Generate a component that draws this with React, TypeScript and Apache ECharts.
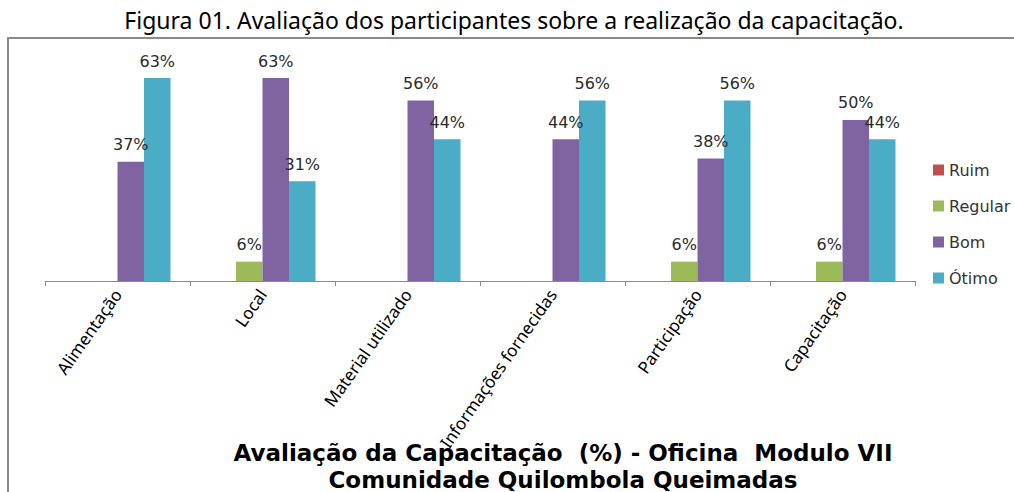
import React, { useEffect, useRef } from "react";
import * as echarts from "echarts";

const categories = [
  "Alimentação",
  "Local",
  "Material utilizado",
  "Informações fornecidas",
  "Participação",
  "Capacitação",
];
const seriesNames = ["Ruim", "Regular", "Bom", "Ótimo"];
const ruim = [0, 0, 0, 0, 0, 0];
const regular = [0, 6, 0, 0, 6, 6];
const bom = [37, 63, 56, 44, 38, 50];
const otimo = [63, 31, 44, 56, 56, 44];
const colors = ["#C0504D", "#9BBB59", "#8064A2", "#4BACC6"];

const topTitle = "Figura 01. Avaliação dos participantes sobre a realização da capacitação.";
const chartTitle = "Avaliação da Capacitação  (%) - Oficina  Modulo VII\nComunidade Quilombola Queimadas";

export default function App() {
  const ref = useRef<HTMLDivElement>(null);
  useEffect(() => {
    document.body.style.margin = "0";
    const chart = echarts.init(ref.current!, null, { renderer: "svg" });
    const values = [ruim, regular, bom, otimo];
    chart.setOption({
      animation: false,
      backgroundColor: "#fff",
      graphic: [
        {
          type: "rect",
          shape: { x: 8, y: 38, width: 1200, height: 600 },
          style: { fill: "none", stroke: "#8a8a8a", lineWidth: 2 },
          z: -1,
        },
        {
          type: "text",
          x: 514,
          y: 20,
          style: {
            text: topTitle,
            font: "23px 'Noto Sans', sans-serif",
            fill: "#000",
            align: "center",
            verticalAlign: "middle",
          },
        },
        {
          type: "text",
          x: 563,
          y: 466,
          style: {
            text: chartTitle,
            font: "bold 23px 'DejaVu Sans', sans-serif",
            lineHeight: 27,
            fill: "#000",
            align: "center",
            verticalAlign: "middle",
          },
        },
      ],
      legend: {
        orient: "vertical",
        left: 928,
        top: 157,
        itemWidth: 11,
        itemHeight: 11,
        itemGap: 20,
        icon: "rect",
        textStyle: {
          fontFamily: "'DejaVu Sans', sans-serif",
          fontSize: 16,
          color: "#333",
          lineHeight: 16,
          letterSpacing: 1,
        },
        data: seriesNames,
      },
      grid: { left: 45, width: 870, top: 55.5, height: 225.5 },
      xAxis: {
        type: "category",
        data: categories,
        axisLine: { lineStyle: { color: "#8a8a8a" } },
        axisTick: { show: true, length: 5, lineStyle: { color: "#8a8a8a" } },
        axisLabel: {
          rotate: 55,
          margin: 10,
          interval: 0,
          fontFamily: "'Noto Sans', sans-serif",
          fontSize: 17,
          color: "#000",
        },
      },
      yAxis: { type: "value", min: 0, max: 70, show: false, splitLine: { show: false } },
      series: seriesNames.map((name, i) => ({
        name,
        type: "bar",
        data: values[i],
        barWidth: 26.5,
        barGap: "0%",
        itemStyle: { color: colors[i] },
        label: {
          show: true,
          position: "top",
          distance: 9,
          fontFamily: "'DejaVu Sans', sans-serif",
          fontSize: 16,
          letterSpacing: 1,
          color: "#2b2b2b",
          formatter: (p: any) => (p.value > 0 ? p.value + "%" : ""),
        },
      })),
    });
    return () => chart.dispose();
  }, []);
  return <div ref={ref} style={{ width: 1014, height: 492 }} />;
}
